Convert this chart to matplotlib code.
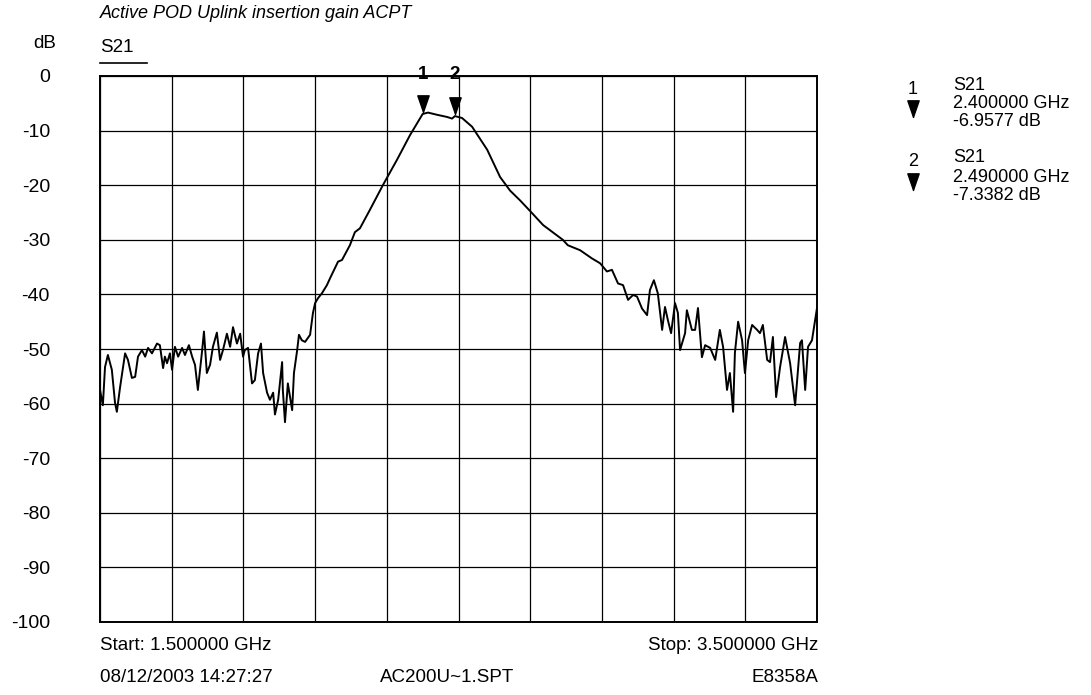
import numpy as np
import matplotlib.pyplot as plt
from matplotlib.path import Path

plt.rcParams['font.family'] = ['Liberation Sans', 'DejaVu Sans']

# S21 trace (GHz, dB)
freq = [1.500, 1.508, 1.514, 1.522, 1.533, 1.542, 1.547, 1.556, 1.570, 1.578,
        1.589, 1.598, 1.606, 1.617, 1.626, 1.634, 1.645, 1.659, 1.667, 1.676,
        1.681, 1.687, 1.695, 1.701, 1.709, 1.718, 1.729, 1.737, 1.748, 1.757,
        1.765, 1.773, 1.785, 1.790, 1.798, 1.807, 1.815, 1.826, 1.835, 1.843,
        1.854, 1.863, 1.871, 1.882, 1.891, 1.899, 1.904, 1.913, 1.924, 1.932,
        1.941, 1.949, 1.955, 1.966, 1.974, 1.983, 1.988, 1.997, 2.008, 2.010,
        2.016, 2.024, 2.036, 2.041, 2.050, 2.055, 2.063, 2.072, 2.086, 2.094,
        2.100, 2.108, 2.119, 2.133, 2.142, 2.164, 2.175, 2.197, 2.211, 2.225,
        2.253, 2.289, 2.328, 2.365, 2.387, 2.400, 2.415, 2.440, 2.468, 2.482,
        2.490, 2.510, 2.538, 2.580, 2.616, 2.644, 2.672, 2.705, 2.736, 2.791,
        2.805, 2.839, 2.872, 2.895, 2.914, 2.928, 2.945, 2.959, 2.973, 2.987,
        2.998, 3.012, 3.026, 3.034, 3.045, 3.056, 3.068, 3.076, 3.084, 3.093,
        3.104, 3.112, 3.118, 3.132, 3.137, 3.151, 3.160, 3.168, 3.179, 3.188,
        3.202, 3.216, 3.229, 3.238, 3.249, 3.257, 3.266, 3.271, 3.280, 3.291,
        3.299, 3.308, 3.319, 3.333, 3.341, 3.349, 3.361, 3.369, 3.377, 3.386,
        3.397, 3.411, 3.425, 3.439, 3.453, 3.458, 3.467, 3.475, 3.486, 3.500]
s21 = [-57.5, -60.3, -53.3, -51.1, -53.8, -59.9, -61.5, -57.0, -50.8, -52.0,
       -55.3, -55.1, -51.4, -50.2, -51.4, -49.8, -50.8, -49.0, -49.3, -53.5,
       -51.4, -52.6, -50.8, -53.8, -49.6, -51.4, -49.8, -51.1, -49.3, -51.4,
       -52.9, -57.5, -50.2, -46.8, -54.4, -52.9, -49.6, -47.0, -52.0, -50.2,
       -47.2, -49.6, -46.0, -49.0, -47.2, -51.4, -50.2, -49.8, -56.3, -55.7,
       -50.8, -49.0, -54.4, -58.0, -59.3, -58.0, -62.0, -59.3, -52.4, -57.5,
       -63.4, -56.3, -61.2, -54.4, -50.2, -47.4, -48.4, -48.7, -47.4, -43.4,
       -41.6, -40.7, -39.8, -38.3, -37.0, -34.0, -33.7, -31.0, -28.6, -27.9,
       -24.5, -20.0, -15.4, -10.8, -8.4, -6.96, -6.7, -7.1, -7.5, -7.8,
       -7.34, -7.7, -9.3, -13.5, -18.5, -21.0, -22.8, -25.1, -27.3, -30.0,
       -31.0, -31.9, -33.4, -34.3, -35.8, -35.5, -38.0, -38.3, -41.0, -40.1,
       -40.4, -42.6, -43.8, -39.2, -37.4, -39.8, -46.5, -42.3, -44.7, -47.1,
       -41.6, -43.4, -50.2, -47.1, -42.9, -46.5, -46.5, -42.5, -51.5, -49.3,
       -49.8, -52.0, -46.5, -49.6, -57.5, -54.4, -61.5, -50.7, -45.0, -48.4,
       -54.4, -48.4, -45.6, -46.5, -47.1, -45.6, -52.0, -52.4, -47.8, -58.8,
       -53.3, -47.8, -52.6, -60.3, -48.9, -48.4, -57.5, -49.6, -48.4, -42.5]

mk_freq = [2.40, 2.49]
mk_db = [-6.9577, -7.3382]
mk_names = ['1', '2']

fig = plt.figure(figsize=(10.91, 6.95), dpi=100)
ax = fig.add_axes([100 / 1091, 73 / 695, 717 / 1091, 546 / 695])

ax.plot(freq, s21, color='black', lw=1.4)

# marker triangles, tip sits on the trace
tri = Path([(-0.34, 1.0), (0.34, 1.0), (0.07, 0.22), (0.0, 0.0), (-0.07, 0.22), (-0.34, 1.0)],
           [Path.MOVETO, Path.LINETO, Path.LINETO, Path.LINETO, Path.LINETO, Path.CLOSEPOLY])
for f, d, n in zip(mk_freq, mk_db, mk_names):
    ax.plot(f, d + 0.4, marker=tri, markersize=24, color='black', ls='none')
    ax.text(f, 0.3, n, ha='center', va='center', fontsize=13.5, fontweight='bold')

ax.set_xlim(1.5, 3.5)
ax.set_ylim(-100, 0)
ax.set_xticks(np.linspace(1.5, 3.5, 11))
ax.set_yticks(np.arange(-100, 1, 10))
ax.set_xticklabels([])
ax.set_yticklabels([str(v) for v in range(-100, 1, 10)], fontsize=14)
ax.tick_params(length=0, pad=36)
ax.grid(True, color='black', lw=0.9)
for sp in ax.spines.values():
    sp.set_linewidth(1.4)

# header
fig.text(100 / 1091, 1 - 13 / 695, 'Active POD Uplink insertion gain ACPT',
         fontsize=13, style='italic', va='center')
fig.text(45 / 1091, 1 - 44 / 695, 'dB', fontsize=13.5, va='center', ha='center')
fig.text(100 / 1091, 1 - 47 / 695, 'S21', fontsize=13.5, va='center')
fig.add_artist(plt.Line2D([100 / 1091, 147 / 1091], [1 - 63 / 695, 1 - 63 / 695],
                          color='black', lw=1.2))

# marker readout on the right
for i, (f, d, n) in enumerate(zip(mk_freq, mk_db, mk_names)):
    y0 = 85 + 73 * i
    fig.text(913 / 1091, 1 - (y0 + 4) / 695, n, fontsize=13, ha='center', va='center')
    fig.text(953 / 1091, 1 - y0 / 695, 'S21', fontsize=13, va='center')
    fig.text(953 / 1091, 1 - (y0 + 19) / 695, f'{f:.6f} GHz', fontsize=13, va='center')
    fig.text(953 / 1091, 1 - (y0 + 37) / 695, f'{d:.4f} dB', fontsize=13, va='center')
    fig.lines.append(plt.Line2D([913 / 1091], [1 - (y0 + 32) / 695], marker=tri,
                                markersize=24, color='black', ls='none',
                                transform=fig.transFigure, figure=fig))

# footer
fig.text(100 / 1091, 1 - 646 / 695, 'Start: 1.500000 GHz', fontsize=13.5, va='center')
fig.text(818 / 1091, 1 - 646 / 695, 'Stop: 3.500000 GHz', fontsize=13.5, va='center', ha='right')
fig.text(100 / 1091, 1 - 677 / 695, '08/12/2003 14:27:27', fontsize=13.5, va='center')
fig.text(380 / 1091, 1 - 678 / 695, 'AC200U~1.SPT', fontsize=13.5, va='center')
fig.text(818 / 1091, 1 - 677 / 695, 'E8358A', fontsize=13.5, va='center', ha='right')

fig.savefig('out.png', dpi=100)
